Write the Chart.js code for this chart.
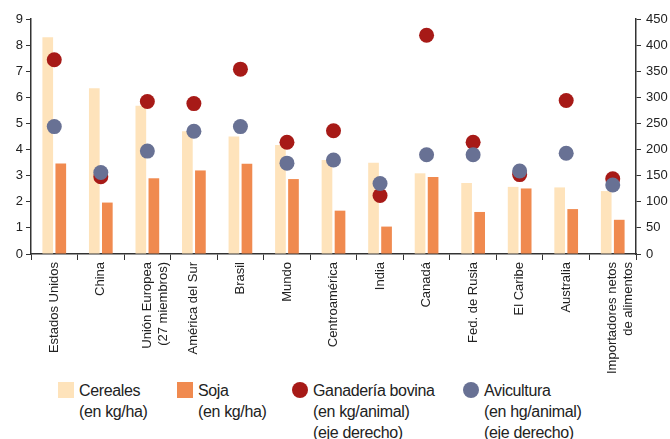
<!DOCTYPE html>
<html lang="es">
<head>
<meta charset="UTF-8">
<title>Rendimientos</title>
<script src="https://cdn.jsdelivr.net/npm/chart.js"></script>
<style>
    body { margin: 0; background: #fff; font-family: "Liberation Sans", Arial, sans-serif; }
    #wrap { position: relative; width: 670px; height: 439px; overflow: hidden; }
    #box { position: absolute; left: 0; top: 0; width: 670px; height: 375px; }
    .leyenda { position: absolute; top: 380px; font-size: 16px; line-height: 21px; letter-spacing: -0.35px; color: #222; }
    .marca { position: absolute; left: 0; top: 2px; width: 16px; height: 16px; }
    .leyenda span.txt { display: block; padding-left: 21px; white-space: nowrap; }
</style>
</head>
<body>
<div id="wrap">
    <div id="box"><canvas id="grafico"></canvas></div>
    <div class="leyenda" style="left:58px"><div class="marca" style="background:#fee3bb"></div><span class="txt">Cereales<br>(en kg/ha)</span></div>
    <div class="leyenda" style="left:177px"><div class="marca" style="background:#f08a4f"></div><span class="txt">Soja<br>(en kg/ha)</span></div>
    <div class="leyenda" style="left:292px"><div class="marca" style="background:#a71a17;border-radius:50%"></div><span class="txt">Ganadería bovina<br>(en kg/animal)<br>(eje derecho)</span></div>
    <div class="leyenda" style="left:463px"><div class="marca" style="background:#687194;border-radius:50%"></div><span class="txt">Avicultura<br>(en hg/animal)<br>(eje derecho)</span></div>
</div>
<script>
const regiones = [
    'Estados Unidos', 'China', ['Unión Europea', '(27 miembros)'], 'América del Sur', 'Brasil',
    'Mundo', 'Centroamérica', 'India', 'Canadá', 'Fed. de Rusia', 'El Caribe', 'Australia',
    ['Importadores netos', 'de alimentos']
];
const cereales = [8.3, 6.35, 5.68, 4.7, 4.5, 4.17, 3.6, 3.49, 3.09, 2.72, 2.57, 2.55, 2.41];
const soja = [3.47, 1.97, 2.9, 3.2, 3.46, 2.87, 1.66, 1.05, 2.95, 1.61, 2.51, 1.72, 1.31];
const ganaderia = [372, 148, 292, 288, 354, 214, 236, 112, 419, 214, 152, 294, 144];
const avicultura = [244, 156, 197, 235, 244, 174, 180, 135, 190, 190, 159, 193, 132];

const colorEje = '#333';
const fuente = { family: '"Liberation Sans", Arial, sans-serif', size: 13 };

new Chart(document.getElementById('grafico'), {
    type: 'bar',
    data: {
        labels: regiones,
        datasets: [
            { label: 'Avicultura', type: 'line', data: avicultura, yAxisID: 'y2', showLine: false,
              pointRadius: 7.5, pointHoverRadius: 7.5, pointBorderWidth: 0,
              backgroundColor: '#687194', borderColor: '#687194', order: 1 },
            { label: 'Ganadería bovina', type: 'line', data: ganaderia, yAxisID: 'y2', showLine: false,
              pointRadius: 7.5, pointHoverRadius: 7.5, pointBorderWidth: 0,
              backgroundColor: '#a71a17', borderColor: '#a71a17', order: 2 },
            { label: 'Cereales', data: cereales, yAxisID: 'y', backgroundColor: '#fee3bb', order: 3,
              categoryPercentage: 0.56, barPercentage: 0.82 },
            { label: 'Soja', data: soja, yAxisID: 'y', backgroundColor: '#f08a4f', order: 4,
              categoryPercentage: 0.56, barPercentage: 0.82 }
        ]
    },
    options: {
        responsive: true,
        maintainAspectRatio: false,
        animation: false,
        layout: { padding: { top: 19, right: 0, left: 0, bottom: 0 } },
        plugins: { legend: { display: false }, tooltip: { enabled: false } },
        scales: {
            x: {
                grid: { offset: true, drawOnChartArea: false, tickLength: 6, color: colorEje },
                border: { color: colorEje, width: 1.5 },
                ticks: { minRotation: 90, maxRotation: 90, autoSkip: false, padding: 2, color: '#222', font: fuente },
                afterFit: s => { s.height = 121; }
            },
            y: {
                position: 'left', min: 0, max: 9,
                grid: { drawOnChartArea: false, tickLength: 5, color: colorEje },
                border: { color: colorEje, width: 1.5 },
                ticks: { stepSize: 1, padding: 3, color: '#222', font: fuente },
                afterFit: s => { s.width = 31; }
            },
            y2: {
                position: 'right', min: 0, max: 450,
                grid: { drawOnChartArea: false, tickLength: 5, color: colorEje },
                border: { color: colorEje, width: 1.5 },
                ticks: { stepSize: 50, padding: 5, color: '#222', font: fuente },
                afterFit: s => { s.width = 34; }
            }
        }
    }
});
</script>
</body>
</html>
